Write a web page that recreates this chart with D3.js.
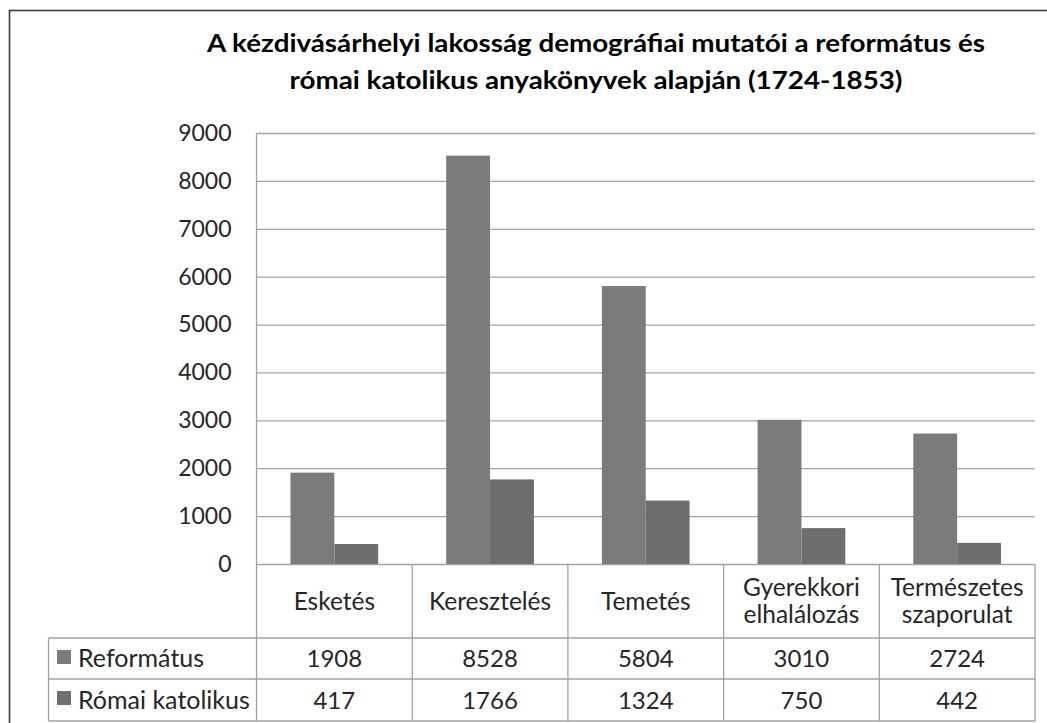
<!DOCTYPE html>
<html>
<head>
<meta charset="utf-8">
<script src="https://cdn.jsdelivr.net/npm/d3@7"></script>
<style>
  html, body { margin: 0; padding: 0; background: #fff; }
  svg { display: block; }
  text { font-family: Lato, "Open Sans", sans-serif; }
</style>
</head>
<body>
<svg id="chart" width="1047" height="723"></svg>
<script>
// ---- Data ----
const title = ["A kézdivásárhelyi lakosság demográfiai mutatói a református és",
               "római katolikus anyakönyvek alapján (1724-1853)"];
const categories = ["Esketés", "Keresztelés", "Temetés", "Gyerekkori\nelhalálozás", "Természetes\nszaporulat"];
const seriesNames = ["Református", "Római katolikus"];
const reformatus = [1908, 8528, 5804, 3010, 2724];
const romaiKatolikus = [417, 1766, 1324, 750, 442];
const yTicks = [0, 1000, 2000, 3000, 4000, 5000, 6000, 7000, 8000, 9000];
const seriesColors = ["#7b7b7b", "#6e6e6e"];

const seriesValues = [reformatus, romaiKatolikus];

// ---- Layout ----
const plotLeft = 256.5, plotRight = 1035, plotTop = 133, plotBottom = 564;
const headerBottom = 638, row1Bottom = 679, row2Bottom = 721;
const tableLeft = 48.5;
const titleWidths = [778, 613];

const svg = d3.select("#chart");

// outer frame (extends past the window on right and bottom)
svg.append("rect")
  .attr("x", 9.5).attr("y", 10.5).attr("width", 1200).attr("height", 900)
  .attr("fill", "none").attr("stroke", "#3c3c3c").attr("stroke-width", 1.6);

// title
svg.append("g").selectAll("text").data(title).join("text")
  .attr("x", 596).attr("y", (d, i) => 52 + i * 37)
  .attr("text-anchor", "middle")
  .attr("font-weight", "bold").attr("font-size", 25).attr("fill", "#000")
  .attr("textLength", (d, i) => titleWidths[i]).attr("lengthAdjust", "spacingAndGlyphs")
  .text(d => d);

const x = d3.scaleBand().domain(categories).range([plotLeft, plotRight]).paddingInner(0).paddingOuter(0);
const x1 = d3.scaleBand().domain(seriesNames).range([0, x.bandwidth()]).paddingInner(0).paddingOuter(0.775);
const y = d3.scaleLinear().domain([0, 9000]).range([plotBottom, plotTop]);

// gridlines
const grid = svg.append("g").attr("transform", `translate(${plotLeft},0)`)
  .call(d3.axisLeft(y).tickValues(yTicks).tickSize(-(plotRight - plotLeft)).tickFormat(""));
grid.select(".domain").remove();
grid.selectAll("line").attr("stroke", "#a3a3a3").attr("stroke-width", 1.3);

// tick labels
const yl = svg.append("g").attr("transform", `translate(${plotLeft},0)`)
  .call(d3.axisLeft(y).tickValues(yTicks).tickSize(0).tickPadding(25).tickFormat(d3.format("d")));
yl.select(".domain").remove();
yl.selectAll("text").attr("font-size", 23).attr("fill", "#262626")
  .attr("font-family", "Lato, sans-serif");

// bars
const groups = svg.append("g").selectAll("g").data(categories).join("g")
  .attr("transform", d => `translate(${x(d)},0)`);
groups.selectAll("rect").data((c, ci) => seriesNames.map((s, si) => ({s, si, v: seriesValues[si][ci]})))
  .join("rect")
  .attr("x", d => x1(d.s)).attr("width", x1.bandwidth())
  .attr("y", d => y(d.v)).attr("height", d => y(0) - y(d.v))
  .attr("fill", d => seriesColors[d.si]);

// ---- Data table ----
const lineColor = "#a0a0a0";
const tbl = svg.append("g").attr("stroke", lineColor).attr("stroke-width", 1.3).attr("fill", "none");
tbl.append("line").attr("x1", plotLeft).attr("x2", plotLeft).attr("y1", plotTop).attr("y2", row2Bottom);
categories.forEach(c => {
  const xr = x(c) + x.bandwidth();
  tbl.append("line").attr("x1", xr).attr("x2", xr).attr("y1", plotBottom).attr("y2", row2Bottom);
});
[headerBottom, row1Bottom, row2Bottom].forEach(yy => {
  tbl.append("line").attr("x1", tableLeft).attr("x2", plotRight).attr("y1", yy).attr("y2", yy);
});
tbl.append("line").attr("x1", tableLeft).attr("x2", tableLeft).attr("y1", headerBottom).attr("y2", row2Bottom);

// category labels
const catG = svg.append("g").selectAll("text").data(categories).join("text")
  .attr("text-anchor", "middle").attr("font-size", 24.5).attr("fill", "#262626");
catG.each(function(d) {
  const lines = d.split("\n");
  const t = d3.select(this);
  const cx = x(d) + x.bandwidth() / 2;
  if (lines.length === 1) {
    t.append("tspan").attr("x", cx).attr("y", 610).text(lines[0]);
  } else {
    lines.forEach((ln, i) => t.append("tspan").attr("x", cx).attr("y", 596 + i * 27).text(ln));
  }
});

// legend rows
const rowBaselines = [667, 709];
const rowTops = [headerBottom, row1Bottom];
seriesNames.forEach((s, si) => {
  svg.append("rect").attr("x", 57).attr("y", rowTops[si] + 12).attr("width", 14).attr("height", 14)
    .attr("fill", seriesColors[si]);
  svg.append("text").attr("x", 78).attr("y", rowBaselines[si]).attr("font-size", 25)
    .attr("fill", "#262626").text(s);
  svg.append("g").selectAll("text").data(seriesValues[si]).join("text")
    .attr("x", (d, i) => x(categories[i]) + x.bandwidth() / 2)
    .attr("y", rowBaselines[si])
    .attr("text-anchor", "middle").attr("font-size", 24).attr("fill", "#262626")
    .text(d => d);
});
</script>
</body>
</html>
